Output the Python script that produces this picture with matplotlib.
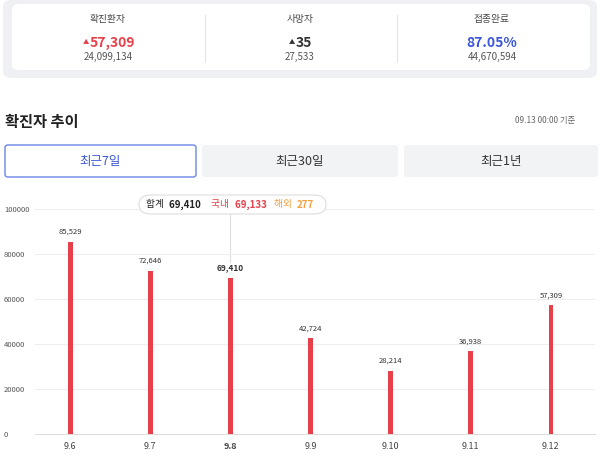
import matplotlib
matplotlib.use("Agg")
import matplotlib.pyplot as plt
from matplotlib.patches import FancyBboxPatch

plt.rcParams["font.family"] = "Noto Sans CJK KR"

dates = ["9.6", "9.7", "9.8", "9.9", "9.10", "9.11", "9.12"]
cases = [85529, 72646, 69410, 42724, 28214, 36938, 57309]
yticks = [0, 20000, 40000, 60000, 80000, 100000]
highlight = 2

fig = plt.figure(figsize=(6, 4.61), dpi=100)
W, H = 600, 461
def fx(x): return x / W
def fy(y): return 1 - y / H

# header card
fig.patches.append(FancyBboxPatch((fx(3), fy(78)), fx(594), 78/H, boxstyle="round,pad=0,rounding_size=0.015",
                                  transform=fig.transFigure, fc="#eef0f3", ec="none"))
fig.patches.append(FancyBboxPatch((fx(12), fy(70)), fx(578), 66/H, boxstyle="round,pad=0,rounding_size=0.012",
                                  transform=fig.transFigure, fc="white", ec="none"))
for xl in [205, 397]:
    fig.add_artist(plt.Line2D([fx(xl), fx(xl)], [fy(62), fy(15)], color="#e6e6e6", lw=0.8))
cols = [(108, "확진환자", "▲", "57,309", "#e8404a", "24,099,134"),
        (300, "사망자", "▲", "35", "#333333", "27,533"),
        (492, "접종완료", "", "87.05%", "#3a55d8", "44,670,594")]
for x, t, arr, v, c, s in cols:
    fig.text(fx(x), fy(19), t, ha="center", va="center", fontsize=7, color="#444")
    fig.text(fx(x + (4 if arr else 0)), fy(43), v, ha="center", va="center", fontsize=10, color=c, fontweight="bold")
    if arr:
        fig.text(fx(x - 22 + (6 if v == "35" else 0) + (0 if v != "35" else 8)), fy(42), arr, ha="center", va="center", fontsize=4.5, color=c)
    fig.text(fx(x), fy(57), s, ha="center", va="center", fontsize=7, color="#555")

fig.text(fx(5), fy(122), "확진자 추이", fontsize=11, fontweight="bold", va="center", color="#222")
fig.text(fx(575), fy(120), "09.13 00:00 기준", fontsize=6, va="center", ha="right", color="#666")

tabs = [(5, 196, "최근7일"), (202, 398, "최근30일"), (404, 598, "최근1년")]
for i, (a, b, t) in enumerate(tabs):
    if i == 0:
        fig.patches.append(FancyBboxPatch((fx(a), fy(177)), fx(b - a), 32/H, boxstyle="round,pad=0,rounding_size=0.005",
                                          transform=fig.transFigure, fc="white", ec="#6b86e8", lw=1))
        col = "#3a55d8"
    else:
        fig.patches.append(FancyBboxPatch((fx(a), fy(177)), fx(b - a), 32/H, boxstyle="round,pad=0,rounding_size=0.005",
                                          transform=fig.transFigure, fc="#f2f3f5", ec="none"))
        col = "#333"
    fig.text(fx((a + b) / 2), fy(161), t, ha="center", va="center", fontsize=9, color=col)

ax = fig.add_axes([fx(35), fy(434), fx(560), 225/H])
x = list(range(len(dates)))
ax.bar(x, cases, width=0.06, color="#e8404a", zorder=3)
ax.set_xlim(-0.44, 6.55)
ax.set_ylim(0, 100000)
ax.set_yticks(yticks)
ax.set_yticklabels([str(v) for v in yticks], fontsize=5.5, color="#555")
ax.yaxis.set_tick_params(length=0, pad=-1)
for lbl in ax.get_yticklabels():
    lbl.set_horizontalalignment("left")
    lbl.set_x(-0.058)
ax.set_xticks(x)
ax.set_xticklabels(dates, fontsize=6.5, color="#444")
ax.get_xticklabels()[highlight].set_fontweight("bold")
ax.tick_params(axis="x", length=0, pad=6)
ax.grid(axis="y", color="#eeeeee", lw=0.8, zorder=0)
for s in ["top", "right", "left"]:
    ax.spines[s].set_visible(False)
ax.spines["bottom"].set_color("#dddddd")
for i, v in enumerate(cases):
    ax.text(i, v + 2500, f"{v:,}", ha="center", va="bottom", fontsize=6 if i == highlight else 5.5,
            fontweight="bold" if i == highlight else "normal", color="#333")
ax.plot([highlight, highlight], [cases[highlight] + 7000, 101000], color="#dddddd", lw=0.8, zorder=1, clip_on=False)

# tooltip
fig.patches.append(FancyBboxPatch((fx(139), fy(214)), fx(187), 19/H, boxstyle="round,pad=0,rounding_size=0.02",
                                  transform=fig.transFigure, fc="white", ec="#dddddd", lw=0.8))
parts = [("합계 ", "#222", "normal"), ("69,410 ", "#222", "bold"), ("국내 ", "#e8404a", "normal"),
         ("69,133 ", "#e8404a", "bold"), ("해외 ", "#f5a040", "normal"), ("277", "#f5a040", "bold")]
xs = [146, 169, 211, 235, 274, 297]
for (t, c, w), xp in zip(parts, xs):
    fig.text(fx(xp), fy(204.5), t, fontsize=7, color=c, fontweight=w, va="center")

fig.savefig("out.png", dpi=100)
